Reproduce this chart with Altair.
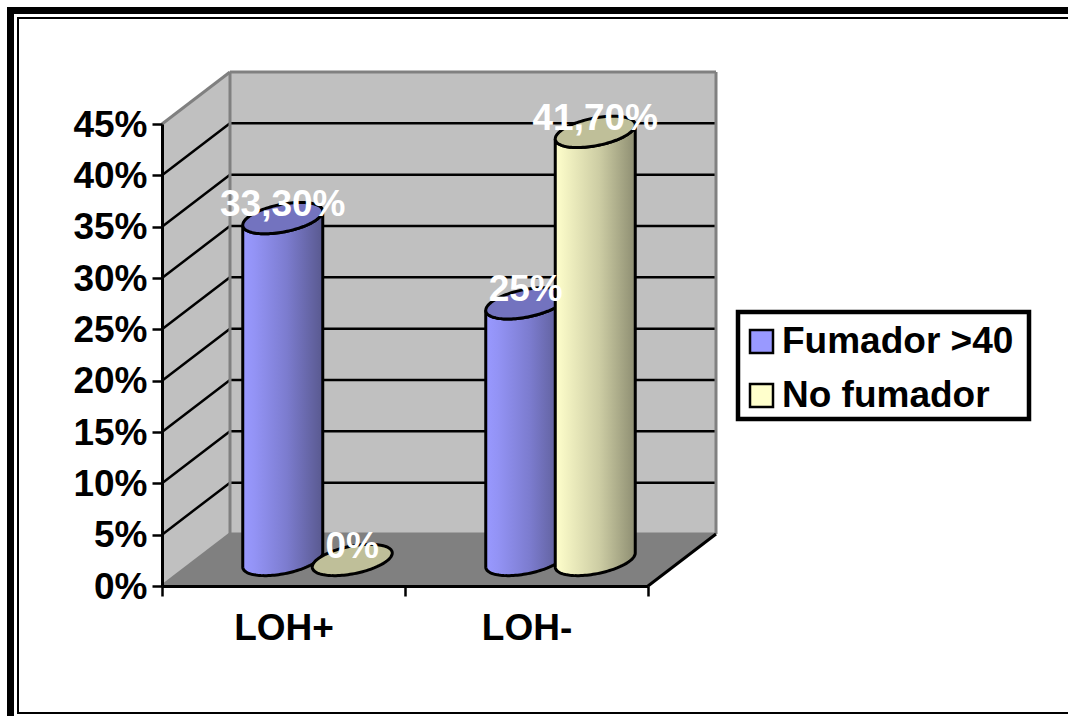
import numpy as np
import pandas as pd
import altair as alt

# Chart values
categories = ["LOH+", "LOH-"]
series = ["Fumador >40", "No fumador"]
fumador = [33.3, 25.0]
no_fumador = [0.0, 41.7]
fumador_labels = ["33,30%", "25%"]
no_fumador_labels = ["0%", "41,70%"]
y_ticks = [0, 5, 10, 15, 20, 25, 30, 35, 40, 45]

FONT = "Liberation Sans"
PLOT_W, PLOT_H = 486, 462
LEFT, TOP = 162, 124
CANVAS_W, CANVAS_H = 1068, 716

# Projection of the chart's depth, in scale units (one x unit = one category)
DEPTH_X = 68 / 243
DEPTH_Y = 52 * 45 / PLOT_H
RADIUS = 40 / 243
SPACING = 69.5 / 243
TILT_A = 7 * 45 / PLOT_H
TILT_B = 14 * 45 / PLOT_H

x_scale = alt.Scale(domain=[0, 2], nice=False, zero=False)
y_scale = alt.Scale(domain=[0, 45], nice=False, zero=False)

# Real axes, with the category names centred between the ticks at the category edges
label_expr = "datum.value == 0 ? '{}' : datum.value == 1 ? '{}' : ''".format(*categories)
x_axis = alt.Axis(
    values=[0, 1, 2], labelExpr=label_expr, labelOffset=121.5, labelAlign="center",
    labelFont=FONT, labelFontSize=37, labelFontWeight="bold", labelColor="black",
    labelPadding=14, labelBound=False, labelFlush=False, labelOverlap=False,
    tickSize=10, tickWidth=2.5, tickColor="black", domainColor="black", domainWidth=3,
    grid=False, zindex=1, title=None,
)
y_axis = alt.Axis(
    values=y_ticks, labelExpr="datum.value + '%'",
    labelFont=FONT, labelFontSize=37, labelFontWeight="bold", labelColor="black",
    labelPadding=5, labelOffset=1, labelOverlap=False, labelBound=False,
    tickSize=10, tickWidth=2.5, tickColor="black", domainColor="black", domainWidth=3,
    grid=False, zindex=1, title=None,
)
X = lambda f: alt.X(f, type="quantitative", scale=x_scale, axis=x_axis)
Y = lambda f: alt.Y(f, type="quantitative", scale=y_scale, axis=y_axis)

GRAY = "#808080"
WALL = "#C0C0C0"


def segments(rows):
    return pd.DataFrame(
        [{"id": i, "x": x, "y": y} for i, (x0, y0, x1, y1) in enumerate(rows)
         for x, y in ((x0, y0), (x1, y1))]
    )


def lines(rows, color, width):
    return alt.Chart(segments(rows)).mark_line(color=color, strokeWidth=width).encode(
        x=X("x"), y=Y("y"), detail="id:N"
    )


# Walls and floor
side_wall = alt.Chart(pd.DataFrame({
    "x": [0, DEPTH_X], "y": [0, DEPTH_Y], "y2": [45, 45 + DEPTH_Y]
})).mark_area(color=WALL).encode(x=X("x"), y=Y("y"), y2="y2")

back_wall = alt.Chart(pd.DataFrame({
    "x": [DEPTH_X, 2 + DEPTH_X], "y": [DEPTH_Y, DEPTH_Y], "y2": [45 + DEPTH_Y, 45 + DEPTH_Y]
})).mark_area(color=WALL).encode(x=X("x"), y=Y("y"), y2="y2")

floor = alt.Chart(pd.DataFrame({
    "y": [0, DEPTH_Y], "x": [0, DEPTH_X], "x2": [2, 2 + DEPTH_X]
})).mark_area(color=GRAY, orient="horizontal").encode(y=Y("y"), x=X("x"), x2="x2")

grid_values = [v for v in y_ticks if 0 < v < 45]
grid_back = lines([(DEPTH_X, v + DEPTH_Y, 2 + DEPTH_X, v + DEPTH_Y) for v in grid_values], "black", 2.5)
grid_side = lines([(0, v, DEPTH_X, v + DEPTH_Y) for v in grid_values], "black", 2.5)

edges = lines([
    (0, 45, DEPTH_X, 45 + DEPTH_Y),
    (DEPTH_X, 45 + DEPTH_Y, 2 + DEPTH_X, 45 + DEPTH_Y),
    (DEPTH_X, DEPTH_Y, DEPTH_X, 45 + DEPTH_Y),
    (2 + DEPTH_X, DEPTH_Y, 2 + DEPTH_X, 45 + DEPTH_Y),
    (DEPTH_X, DEPTH_Y, 2 + DEPTH_X, DEPTH_Y),
    (0, 0, DEPTH_X, DEPTH_Y),
], GRAY, 3)
floor_edge = lines([(2, 0, 2 + DEPTH_X, DEPTH_Y)], "black", 3)


def gradient(stops):
    return alt.LinearGradient(
        gradient="linear", x1=0, x2=1, y1=0, y2=0,
        stops=[alt.GradientStop(color=c, offset=o) for o, c in stops],
    )


BLUE_BODY = gradient([(0, "#9999FF"), (0.15, "#9393F5"), (0.55, "#7C7CCF"), (1, "#59598F")])
YELLOW_BODY = gradient([(0, "#FFFFCC"), (0.12, "#F4F4C3"), (0.55, "#CDCDA4"), (1, "#8E8E72")])
BLUE_TOP = "#7373BF"
YELLOW_TOP = "#BFBF99"


def ellipse(cx, level):
    t = np.linspace(0, np.pi, 61)
    c, s = np.cos(t), np.sin(t)
    return pd.DataFrame({
        "x": cx + RADIUS * c,
        "upper": level + TILT_A * c + TILT_B * s,
        "lower": level + TILT_A * c - TILT_B * s,
    })


def cylinder(cx, value, body_fill, top_fill):
    layers = []
    level = value + DEPTH_Y / 2
    top = ellipse(cx, level)
    if value > 0:
        base = ellipse(cx, DEPTH_Y / 2)
        body = pd.DataFrame({"x": base["x"], "y": base["lower"], "y2": top["lower"]})
        layers.append(
            alt.Chart(body).mark_area(fill=body_fill, stroke="black", strokeWidth=3).encode(
                x=X("x"), y=Y("y"), y2="y2"
            )
        )
    layers.append(
        alt.Chart(top).mark_area(fill=top_fill, stroke="black", strokeWidth=3).encode(
            x=X("x"), y=Y("upper"), y2="lower"
        )
    )
    return layers


centers = [i + 0.5 + DEPTH_X / 2 for i in range(len(categories))]
cylinders = []
label_rows = []
for i, cx in enumerate(centers):
    left, right = cx - SPACING / 2, cx + SPACING / 2
    cylinders += cylinder(left, fumador[i], BLUE_BODY, BLUE_TOP)
    cylinders += cylinder(right, no_fumador[i], YELLOW_BODY, YELLOW_TOP)
    label_rows.append({"x": left, "y": fumador[i] + DEPTH_Y / 2, "text": fumador_labels[i]})
    label_rows.append({"x": right, "y": no_fumador[i] + DEPTH_Y / 2, "text": no_fumador_labels[i]})

value_labels = alt.Chart(pd.DataFrame(label_rows)).mark_text(
    font=FONT, fontSize=37, fontWeight="bold", color="white", dy=-13
).encode(x=X("x"), y=Y("y"), text="text:N")


# Double outer frame, running off the right edge
def frame_rule(x0, x1, y0, y1, width):
    return alt.Chart(pd.DataFrame({"a": [0]})).mark_rule(color="black", strokeWidth=width).encode(
        x=alt.value(x0 - LEFT), x2=alt.value(x1 - LEFT),
        y=alt.value(y0 - TOP), y2=alt.value(y1 - TOP),
    )


frame = [
    frame_rule(7, CANVAS_W, 10.5, 10.5, 7),
    frame_rule(10.5, 10.5, 7, CANVAS_H, 7),
    frame_rule(17, CANVAS_W, 18, 18, 2),
    frame_rule(18, 18, 17, 714, 2),
    frame_rule(17, CANVAS_W, 713, 713, 2),
]

# Legend box and the legend itself, fed by an unseen layer
legend_box = alt.Chart(pd.DataFrame({"a": [0]})).mark_rect(
    fill="white", stroke="black", strokeWidth=4.5
).encode(
    x=alt.value(738 - LEFT), x2=alt.value(1029 - LEFT),
    y=alt.value(312 - TOP), y2=alt.value(419 - TOP),
)

legend_layer = alt.Chart(pd.DataFrame({"serie": series, "x": [0, 0], "y": [0, 0]})).mark_square(opacity=0).encode(
    x=X("x"), y=Y("y"),
    color=alt.Color("serie:N", scale=alt.Scale(domain=series, range=["#9999FF", "#FFFFCC"]), legend=alt.Legend(
        title=None, orient="none", legendX=736 - LEFT, legendY=316 - TOP,
        symbolType="square", symbolSize=529, symbolOpacity=1,
        symbolStrokeColor="black", symbolStrokeWidth=2.5,
        labelFont=FONT, labelFontSize=37, labelFontWeight="bold", labelColor="black",
        labelOffset=2, labelLimit=400, rowPadding=16,
        padding=7,
    )),
)

chart = alt.layer(
    *frame, side_wall, back_wall, floor, grid_back, grid_side, edges, floor_edge,
    *cylinders, value_labels, legend_box, legend_layer,
).properties(
    width=PLOT_W,
    height=PLOT_H,
    padding={"left": LEFT, "top": TOP, "right": CANVAS_W - LEFT - PLOT_W, "bottom": CANVAS_H - TOP - PLOT_H},
    autosize=alt.AutoSizeParams(type="none"),
    background="white",
).configure_view(stroke=None)

chart.save("out.html", embed_options={"renderer": "svg", "actions": False})
